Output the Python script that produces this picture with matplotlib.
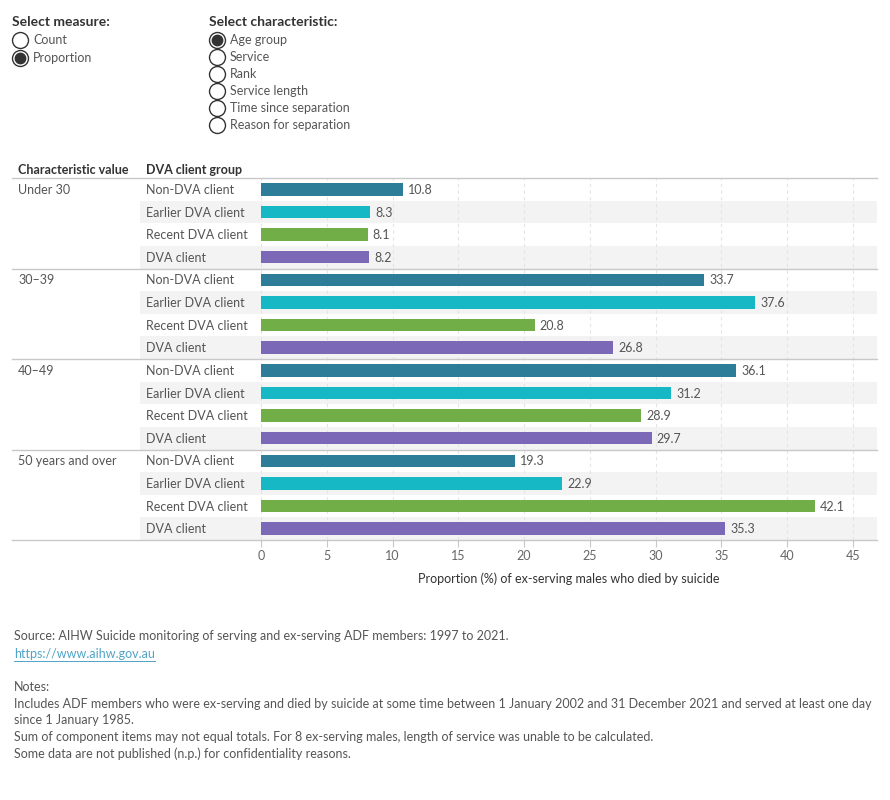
import matplotlib.pyplot as plt
import matplotlib.transforms as mtransforms
from matplotlib.patches import Rectangle

plt.rcParams['font.family'] = ['Lato', 'DejaVu Sans']

# ----------------------------
# Data
# ----------------------------
age_groups = ["Under 30", "30–39", "40–49", "50 years and over"]
client_groups = ["Non-DVA client", "Earlier DVA client", "Recent DVA client", "DVA client"]
client_colours = ["#2d7d99", "#17b8c6", "#71ae48", "#7b68b6"]

under_30 = [10.8, 8.3, 8.1, 8.2]
age_30_39 = [33.7, 37.6, 20.8, 26.8]
age_40_49 = [36.1, 31.2, 28.9, 29.7]
age_50_over = [19.3, 22.9, 42.1, 35.3]
values = [under_30, age_30_39, age_40_49, age_50_over]

x_ticks = [0, 5, 10, 15, 20, 25, 30, 35, 40, 45]

measure_options = ["Count", "Proportion"]
characteristic_options = ["Age group", "Service", "Rank", "Service length",
                          "Time since separation", "Reason for separation"]

W, H = 890, 800
TXT = "#555555"
LINE = "#c8c8c8"

fig = plt.figure(figsize=(W / 100, H / 100), dpi=100)

# overlay canvas in pixel coordinates for the controls and notes
canvas = fig.add_axes([0, 0, 1, 1])
canvas.set_xlim(0, W)
canvas.set_ylim(H, 0)
canvas.axis("off")

# ----------------------------
# Main bar chart
# ----------------------------
px_per_unit = 13.15
ax_left, ax_right, ax_top, ax_bottom = 261, 877, 178, 540
ax = fig.add_axes([ax_left / W, 1 - ax_bottom / H, (ax_right - ax_left) / W, (ax_bottom - ax_top) / H])
ax.patch.set_visible(False)
n_rows = len(age_groups) * len(client_groups)
ax.set_ylim(n_rows - 0.5, -0.5)
ax.set_xlim(0, (ax_right - ax_left) / px_per_unit)

trans = mtransforms.blended_transform_factory(fig.transFigure, ax.transData)

row = 0
for g, age in enumerate(age_groups):
    for c, client in enumerate(client_groups):
        v = values[g][c]
        if c % 2 == 1:
            ax.add_patch(Rectangle((140 / W, row - 0.5), (ax_right - 140) / W, 1,
                                   transform=trans, facecolor="#f3f3f3", edgecolor="none",
                                   zorder=0.1, clip_on=False))
        ax.barh(row, v, height=0.55, color=client_colours[c], zorder=2)
        ax.text(v + 0.4, row + 0.03, f"{v:.1f}", va="center", ha="left", fontsize=9, color=TXT)
        ax.text(146 / W, row + 0.03, client, transform=trans, va="center", ha="left",
                fontsize=9, color=TXT)
        if c == 0:
            ax.text(18 / W, row + 0.03, age, transform=trans, va="center", ha="left",
                    fontsize=9, color=TXT)
        row += 1

# separators between age groups
for k in range(len(age_groups) + 1):
    y = k * len(client_groups) - 0.5
    ax.plot([12 / W, ax_right / W], [y, y], transform=trans, color=LINE, lw=1,
            clip_on=False, zorder=3)

# vertical gridlines
for t in x_ticks:
    ax.axvline(t, color="#e4e4e4", lw=0.8, ls=(0, (3, 3)), zorder=0.5)

for s in ax.spines.values():
    s.set_visible(False)
ax.set_yticks([])
ax.set_xticks(x_ticks)
ax.tick_params(axis="x", length=5, color=LINE, labelsize=9, labelcolor="#666666", pad=2.5)
ax.set_xlabel("Proportion (%) of ex-serving males who died by suicide",
              fontsize=9, color="#333333", labelpad=7)

# column headers
canvas.text(18, 170, "Characteristic value", fontsize=9, fontweight="bold",
            color="#333333", va="center")
canvas.text(146, 170, "DVA client group", fontsize=9, fontweight="bold",
            color="#333333", va="center")

# ----------------------------
# Radio button controls
# ----------------------------
def radio(x, y, label, selected):
    canvas.plot(x, y, "o", ms=11.5, mfc="white", mec="#333333", mew=1)
    if selected:
        canvas.plot(x, y, "o", ms=7.5, color="#333333")
    canvas.text(x + 13, y, label, fontsize=9, color=TXT, va="center")


canvas.text(12, 22, "Select measure:", fontsize=10, fontweight="bold", color="#333333", va="center")
for i, opt in enumerate(measure_options):
    radio(20, 40 + i * 18, opt, opt == "Proportion")

canvas.text(209, 22, "Select characteristic:", fontsize=10, fontweight="bold", color="#333333", va="center")
for i, opt in enumerate(characteristic_options):
    radio(217, 40 + i * 17, opt, opt == "Age group")

# ----------------------------
# Source and notes
# ----------------------------
canvas.text(14, 636, "Source: AIHW Suicide monitoring of serving and ex-serving ADF members: 1997 to 2021.",
            fontsize=9, color=TXT, va="center")
link = canvas.text(14, 654, "https://www.aihw.gov.au", fontsize=9, color="#4fa3c7", va="center")
fig.canvas.draw()
bb = link.get_window_extent().transformed(canvas.transData.inverted())
canvas.plot([bb.x0, bb.x1], [661, 661], color="#4fa3c7", lw=0.7)
notes = [
    "Notes:",
    "Includes ADF members who were ex-serving and died by suicide at some time between 1 January 2002 and 31 December 2021 and served at least one day",
    "since 1 January 1985.",
    "Sum of component items may not equal totals. For 8 ex-serving males, length of service was unable to be calculated.",
    "Some data are not published (n.p.) for confidentiality reasons.",
]
for i, line in enumerate(notes):
    y = 687 if i == 0 else 704 + (i - 1) * 16.5
    canvas.text(14, y, line, fontsize=9, color=TXT, va="center")

fig.savefig("out.png", dpi=100)
